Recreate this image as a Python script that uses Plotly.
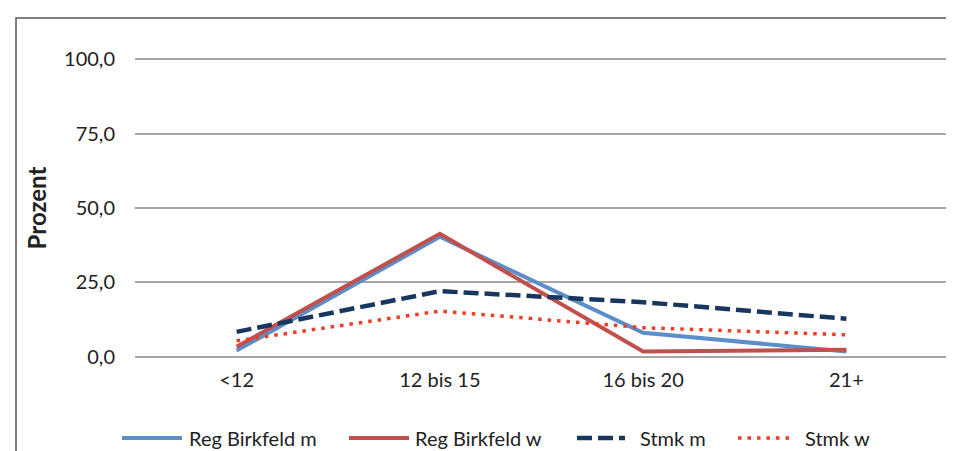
import plotly.graph_objects as go

categories = ["<12", "12 bis 15", "16 bis 20", "21+"]
reg_m = [2.0, 40.3, 8.0, 1.7]
reg_w = [3.3, 41.3, 1.7, 2.3]
stmk_m = [8.3, 22.0, 18.3, 12.7]
stmk_w = [5.3, 15.3, 9.7, 7.3]
y_ticks = [0, 25, 50, 75, 100]

series = [
    ("Reg Birkfeld m", reg_m, dict(color="#5b8fc9", width=4)),
    ("Reg Birkfeld w", reg_w, dict(color="#c0504d", width=4)),
    ("Stmk m", stmk_m, dict(color="#17375e", width=4.5, dash="15px,6px")),
    ("Stmk w", stmk_w, dict(color="#f03c24", width=3.5, dash="3.5px,6px")),
]

W, H = 954, 451
L, R, T, B = 127, 14, 50, 101
pw, ph = W - L - R, H - T - B

fig = go.Figure()
for name, vals, line in series:
    fig.add_trace(go.Scatter(x=categories, y=vals, mode="lines", name=name,
                             line=line, showlegend=False))

font = "Lato, Carlito, Calibri, sans-serif"

def px_x(x):
    return (x - L) / pw

def px_y(y):
    return 1 - (y - T) / ph

# manual legend
legend_items = [(114, 174, 179), (341, 401, 405), (569, 617, 630), (730, 781, 795)]
leg_y = 430
for (name, vals, line), (x0, x1, tx) in zip(series, legend_items):
    fig.add_shape(type="line", xref="paper", yref="paper",
                  x0=px_x(x0), x1=px_x(x1), y0=px_y(leg_y), y1=px_y(leg_y),
                  line=line)
    fig.add_annotation(xref="paper", yref="paper", x=px_x(tx), y=px_y(leg_y),
                       text=name, showarrow=False, xanchor="left", yanchor="middle",
                       font=dict(family=font, size=20, color="#222"))

# frame
fig.add_shape(type="rect", xref="paper", yref="paper",
              x0=px_x(8), x1=px_x(1000), y0=px_y(10), y1=px_y(500),
              line=dict(color="#555", width=1.5), layer="below")

fig.update_layout(
    template="none",
    width=W, height=H,
    margin=dict(l=L, r=R, t=T, b=B, autoexpand=False),
    paper_bgcolor="white", plot_bgcolor="white",
    separators=",.",
    font=dict(family=font, size=20, color="#222"),
    xaxis=dict(type="category", range=[-0.5, 3.5], showgrid=False, showline=False,
               ticks="", zeroline=False, ticklabelstandoff=8, automargin=False),
    yaxis=dict(range=[-0.5, 100.5], tickvals=y_ticks, tickformat=".1f",
               showgrid=True, gridcolor="#a6a6a6", gridwidth=2, zeroline=False,
               showline=False, ticks="", ticklabelstandoff=19, automargin=False,
               title=dict(text="<b>Prozent</b>", font=dict(size=24), standoff=10)),
)

fig.write_html("out.html")
